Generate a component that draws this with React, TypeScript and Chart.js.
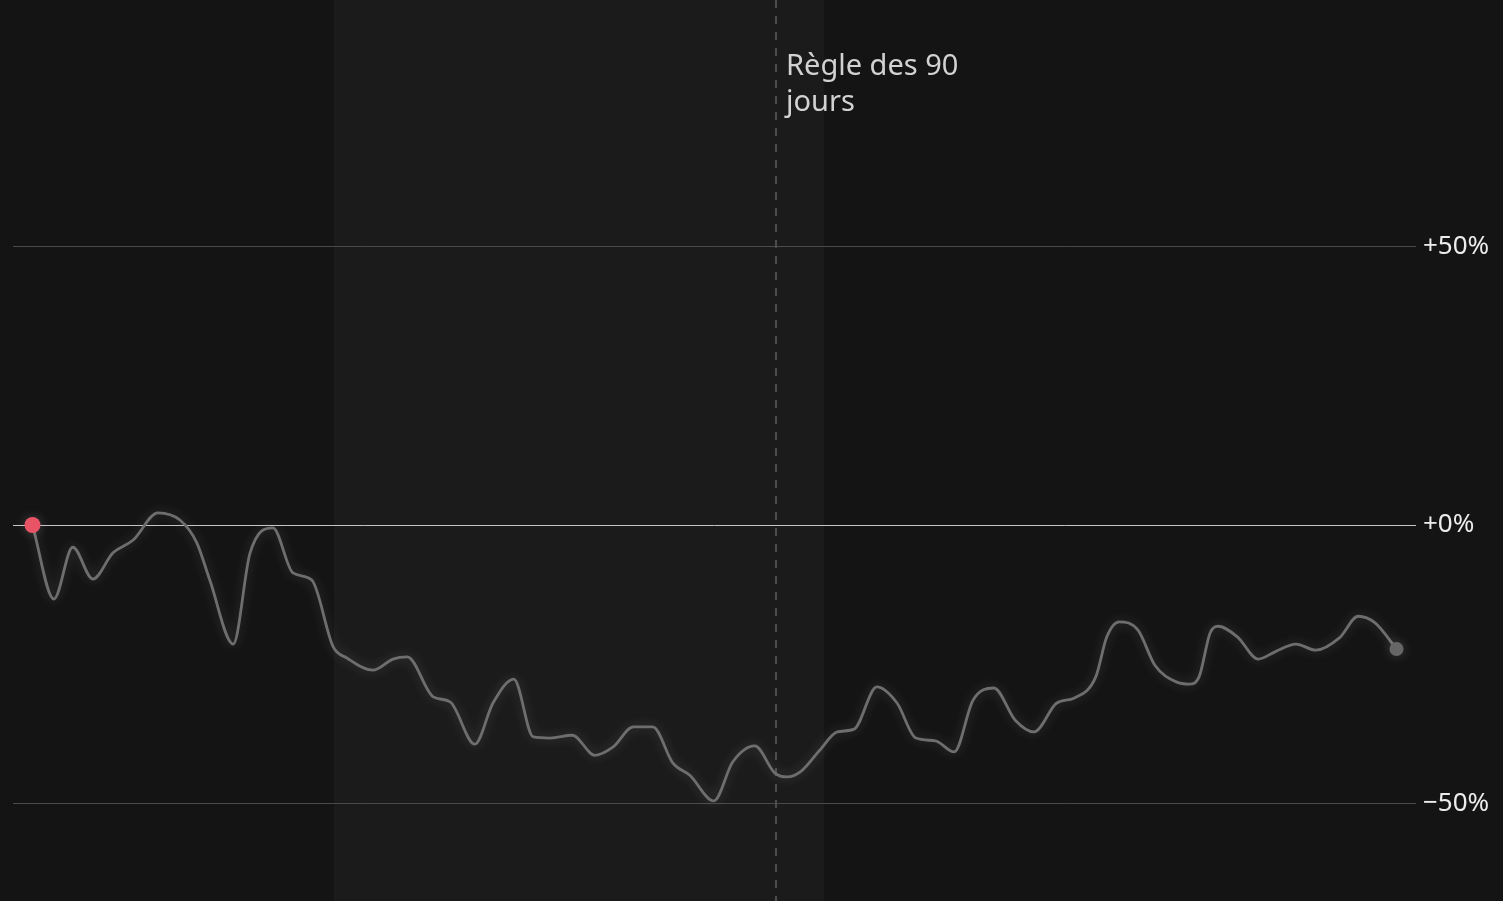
import React, { useRef, useEffect } from 'react'
import Chart from 'chart.js/auto'

// jours depuis le début de la période
const days = [
  0, 3.3, 6.2, 9.3, 12.4, 15.5, 19.3, 22.7, 25.3, 27.3, 30.9, 33.5, 37.0, 40.1, 43.0,
  46.3, 48.4, 52.4, 55.5, 57.7, 61.7, 64.3, 68.1, 70.9, 74.1, 77.1, 79.7, 83.1, 86.6,
  89.4, 92.5, 95.5, 98.6, 101.2, 104.9, 107.8, 111.2, 114.3, 116.2, 118.2, 121.2, 123.9,
  126.5, 130.0, 133.1, 136.0, 139.0, 141.9, 144.8, 148.0, 151.3, 154.2, 157.7, 160.4,
  163.7, 165.4, 167.3, 170.2, 172.8, 176.1, 178.1, 179.6, 181.3, 182.5, 185.5, 188.7,
  191.3, 194.5, 197.6, 201.2, 204.1, 206.7, 210
]

// variation en %
const changePct = [
  0, -13.3, -4.0, -9.7, -5.0, -2.7, 2.2, 0.9, -3.2, -9.9, -21.4, -5.0, -0.5, -8.6, -9.9,
  -21.9, -23.9, -26.1, -24.1, -23.7, -30.9, -31.8, -39.4, -32.0, -27.7, -38.1, -38.3, -37.8, -41.4,
  -39.9, -36.3, -36.3, -42.8, -45.0, -49.6, -42.6, -39.7, -44.6, -45.3, -44.4, -40.5, -37.2,
  -36.7, -29.1, -32.0, -38.3, -38.8, -40.8, -31.5, -29.3, -35.1, -37.2, -32.0, -31.1,
  -27.3, -20.1, -17.4, -18.9, -25.2, -28.2, -28.6, -27.3, -19.4, -18.2, -20.1, -24.1,
  -22.8, -21.4, -22.5, -20.3, -16.4, -17.6, -22.3
]

const yTicks = [-50, 0, 50]
const bandStart = 46.4
const bandEnd = 121.9
const ruleDay = 114.3
const ruleLabel = ['Règle des 90', 'jours']

const FONT = '"Noto Sans", "Open Sans", sans-serif'

const backgroundPlugin = {
  id: 'bgBand',
  beforeDraw(chart: any) {
    const { ctx, width, height, scales } = chart
    ctx.save()
    ctx.fillStyle = '#141414'
    ctx.fillRect(0, 0, width, height)
    const x0 = scales.x.getPixelForValue(bandStart)
    const x1 = scales.x.getPixelForValue(bandEnd)
    ctx.fillStyle = '#1b1b1b'
    ctx.fillRect(x0, 0, x1 - x0, height)
    ctx.restore()
  },
  beforeDatasetsDraw(chart: any) {
    const { ctx, height, scales } = chart
    const x = Math.round(scales.x.getPixelForValue(ruleDay)) + 1
    ctx.save()
    ctx.strokeStyle = '#4d4d4d'
    ctx.lineWidth = 2
    ctx.setLineDash([8, 8])
    ctx.beginPath()
    ctx.moveTo(x, 0)
    ctx.lineTo(x, height)
    ctx.stroke()
    ctx.setLineDash([])
    ctx.fillStyle = '#d2d2d2'
    ctx.font = `29px ${FONT}`
    ctx.textBaseline = 'alphabetic'
    ctx.textAlign = 'left'
    ruleLabel.forEach((line, i) => ctx.fillText(line, x + 10, 75 + i * 36))
    ctx.restore()
  },
  beforeDatasetDraw(chart: any) {
    const ctx = chart.ctx
    ctx.save()
    ctx.shadowColor = 'rgba(255,255,255,0.2)'
    ctx.shadowBlur = 12
  },
  afterDatasetDraw(chart: any) {
    chart.ctx.restore()
  }
}

const App: React.FC = () => {
  const canvasRef = useRef<HTMLCanvasElement>(null)
  const chartRef = useRef<Chart | null>(null)

  useEffect(() => {
    if (!canvasRef.current) return
    if (chartRef.current) chartRef.current.destroy()

    const last = days.length - 1

    chartRef.current = new Chart(canvasRef.current, {
      type: 'line',
      data: {
        datasets: [{
          data: days.map((d, i) => ({ x: d, y: changePct[i] })),
          borderColor: '#6e6e6e',
          borderWidth: 2.8,
          cubicInterpolationMode: 'monotone',
          pointRadius: (c: any) => (c.dataIndex === 0 ? 8 : c.dataIndex === last ? 7 : 0),
          pointBackgroundColor: (c: any) => (c.dataIndex === 0 ? '#e85466' : '#666666'),
          pointBorderWidth: 0,
          pointHoverRadius: 0,
          clip: false
        }]
      },
      options: {
        animation: false,
        responsive: true,
        maintainAspectRatio: false,
        layout: { autoPadding: false, padding: { left: 13, right: 0, top: 0, bottom: 0 } },
        plugins: {
          legend: { display: false },
          tooltip: { enabled: false }
        },
        scales: {
          x: {
            type: 'linear',
            display: false,
            min: -3,
            max: 213
          },
          y: {
            position: 'right',
            min: -67.6,
            max: 94.4,
            afterBuildTicks: (scale: any) => {
              scale.ticks = yTicks.map(v => ({ value: v }))
            },
            afterFit: (scale: any) => {
              scale.width = 87
              scale.paddingTop = 0
              scale.paddingBottom = 0
            },
            border: { display: false },
            grid: {
              drawTicks: false,
              lineWidth: 1,
              color: (c: any) => (c.tick && c.tick.value === 0 ? '#c4c4c4' : '#4a4a4a')
            },
            ticks: {
              padding: 7,
              color: '#ececec',
              font: { family: FONT, size: 26 },
              callback: (v: any) => (v > 0 ? `+${v}%` : v === 0 ? '+0%' : `\u2212${Math.abs(v)}%`)
            }
          }
        }
      },
      plugins: [backgroundPlugin]
    })

    return () => {
      if (chartRef.current) {
        chartRef.current.destroy()
        chartRef.current = null
      }
    }
  }, [])

  return (
    <div style={{ position: 'fixed', left: 0, top: 0, width: 1503, height: 901, background: '#141414' }}>
      <canvas ref={canvasRef}></canvas>
    </div>
  )
}

export default App
